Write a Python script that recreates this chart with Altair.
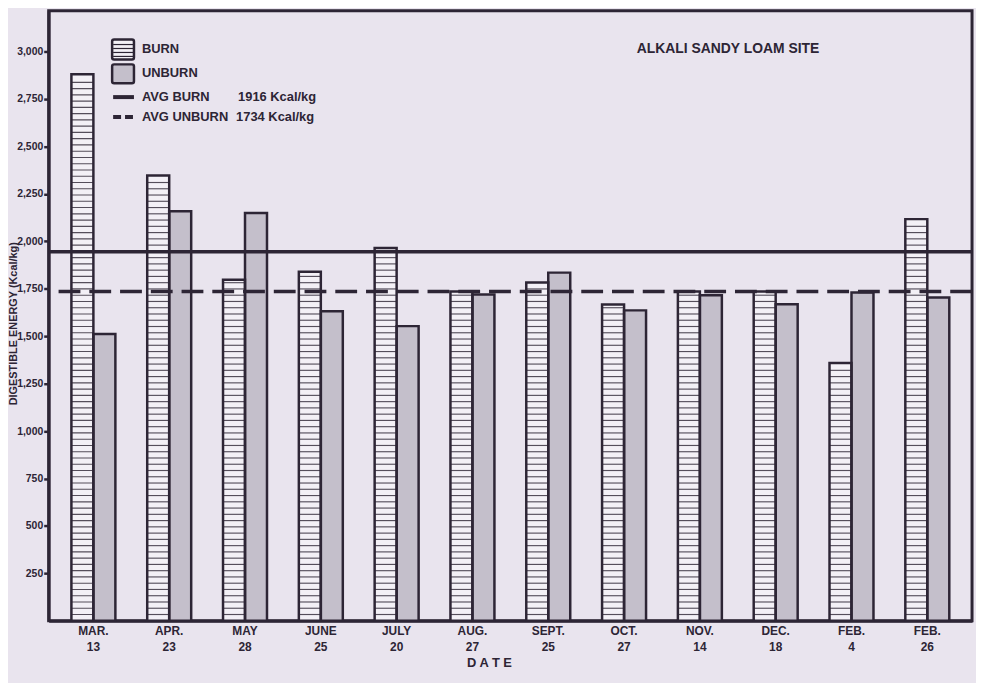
import altair as alt
import pandas as pd
import numpy as np

# ---- data ----
dates = ["MAR. 13", "APR. 23", "MAY 28", "JUNE 25", "JULY 20", "AUG. 27",
         "SEPT. 25", "OCT. 27", "NOV. 14", "DEC. 18", "FEB. 4", "FEB. 26"]
burn = [2880, 2347, 1798, 1840, 1965, 1735, 1783, 1667, 1735, 1735, 1359, 2117]
unburn = [1512, 2159, 2149, 1631, 1553, 1720, 1835, 1636, 1716, 1668, 1730, 1704]
series = ["BURN", "UNBURN"]
avg_lines = [1945, 1735]          # drawn positions of the two average lines
avg_labels = ["1916 Kcal/kg", "1734 Kcal/kg"]
y_ticks = [250, 500, 750, 1000, 1250, 1500, 1750, 2000, 2250, 2500, 2750, 3000]

INK = "#2d2535"
BG = "#e9e4ee"
FONT = "Liberation Sans"

df = pd.DataFrame({
    "date": dates * 2,
    "series": ["BURN"] * len(dates) + ["UNBURN"] * len(dates),
    "value": burn + unburn,
})

# horizontal hatching inside the burn bars (derived from the burn values)
rows = []
for d, v in zip(dates, burn):
    for y0 in np.arange(30, v - 12, 33):
        rows.append({"date": d, "series": "BURN", "y0": float(y0), "y1": float(y0) + 6})
stripes = pd.DataFrame(rows)

xenc = alt.X("date:N", sort=dates, title="D A T E",
             scale=alt.Scale(paddingInner=0.42, paddingOuter=0.3),
             axis=alt.Axis(labelExpr="split(datum.label, ' ')", labelAngle=0,
                           labelFont=FONT, labelFontSize=12, labelFontWeight="bold",
                           labelColor=INK, labelLineHeight=16, labelPadding=5,
                           ticks=False, domainColor=INK, domainWidth=3,
                           titleFont=FONT, titleFontSize=13, titleFontWeight="bold",
                           titleColor=INK, titleX=444, titleY=42,
                           titleBaseline="middle", titleAlign="center"))
yscale = alt.Scale(domain=[0, 3215], nice=False, zero=True)
yenc = alt.Y("value:Q", scale=yscale, title="DIGESTIBLE ENERGY (Kcal/kg)",
             axis=alt.Axis(values=y_ticks, format=",d", grid=False,
                           tickSize=5, tickWidth=2.5, tickColor=INK,
                           domainColor=INK, domainWidth=3,
                           labelFont=FONT, labelFontSize=10.5, labelFontWeight="bold",
                           labelColor=INK, labelPadding=1,
                           titleFont=FONT, titleFontSize=11, titleFontWeight="bold",
                           titleColor=INK, titleX=-35, titleY=315, titleAngle=-90,
                           titleAlign="center", titleBaseline="middle"))
xoff = alt.XOffset("series:N", sort=series,
                   scale=alt.Scale(domain=series, paddingInner=0, paddingOuter=0))

fill_bars = alt.Chart(df).mark_bar(strokeWidth=0).encode(
    x=xenc, y=yenc, xOffset=xoff,
    fill=alt.Fill("series:N", scale=alt.Scale(domain=series, range=["#f3f0f6", "#c4bfcb"]),
                  legend=None),
)

stripe_bars = alt.Chart(stripes).mark_bar(color=INK, opacity=0.8, strokeWidth=0).encode(
    x=alt.X("date:N", sort=dates),
    xOffset=alt.XOffset("series:N", sort=series),
    y=alt.Y("y0:Q", scale=yscale),
    y2="y1:Q",
)

outline_bars = alt.Chart(df).mark_bar(fillOpacity=0, stroke=INK, strokeWidth=2.5).encode(
    x=alt.X("date:N", sort=dates), y=alt.Y("value:Q", scale=yscale),
    xOffset=alt.XOffset("series:N", sort=series),
)

avg_df = pd.DataFrame({"avg": avg_lines, "kind": series})
solid_rule = alt.Chart(avg_df.iloc[[0]]).mark_rule(color=INK, strokeWidth=3.5).encode(
    y=alt.Y("avg:Q", scale=yscale))
dash_rule = alt.Chart(avg_df.iloc[[1]]).mark_rule(color=INK, strokeWidth=3.5,
                                                  strokeDash=[22, 9]).encode(
    y=alt.Y("avg:Q", scale=yscale))

one = pd.DataFrame({"a": [0]})


def txt(s, x, y, size=13, align="left"):
    return alt.Chart(one).mark_text(text=s, font=FONT, fontSize=size, fontWeight="bold",
                                    color=INK, align=align, baseline="middle").encode(
        x=alt.value(x), y=alt.value(y))


def box(x, y, w, h, fill):
    return alt.Chart(one).mark_rect(fill=fill, stroke=INK, strokeWidth=2.5,
                                    cornerRadius=2).encode(
        x=alt.value(x), x2=alt.value(x + w), y=alt.value(y), y2=alt.value(y + h))


leg_stripes = pd.DataFrame({"py": [34.0, 38.0, 42.0, 46.0]})
leg_stripe_rules = alt.Chart(leg_stripes).mark_rule(color=INK, strokeWidth=1.2).encode(
    y=alt.Y("py:Q", scale=None), x=alt.value(65), x2=alt.value(86))

legend_layers = [
    box(64, 29, 22, 20, "#f3f0f6"), leg_stripe_rules,
    box(64, 54, 22, 19, "#c4bfcb"),
    txt("BURN", 94, 39), txt("UNBURN", 94, 63),
    alt.Chart(one).mark_rule(color=INK, strokeWidth=4).encode(
        x=alt.value(65), x2=alt.value(86), y=alt.value(87)),
    alt.Chart(one).mark_rule(color=INK, strokeWidth=4, strokeDash=[8, 4]).encode(
        x=alt.value(65), x2=alt.value(86), y=alt.value(107)),
    txt("AVG  BURN", 94, 87), txt(avg_labels[0], 191, 87),
    txt("AVG  UNBURN", 94, 107), txt(avg_labels[1], 189, 107),
    txt("ALKALI SANDY LOAM SITE", 593, 39, size=14),
]

chart = alt.layer(
    fill_bars, stripe_bars, outline_bars, solid_rule, dash_rule, *legend_layers
).properties(
    width=931, height=615,
    autosize=alt.AutoSizeParams(type="none"),
    padding={"left": 41, "top": 0, "right": 4, "bottom": 70},
    background=BG,
).configure_view(stroke=INK, strokeWidth=3)

chart.save("out.html", embed_options={"renderer": "svg", "actions": False})
